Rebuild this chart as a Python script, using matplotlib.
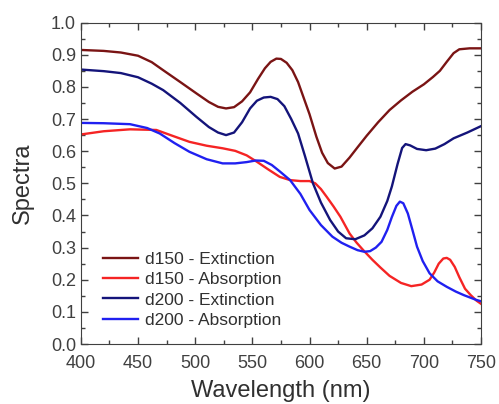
import matplotlib.pyplot as plt
from matplotlib.ticker import MultipleLocator

plt.rcParams['font.family'] = ['Liberation Sans', 'DejaVu Sans']

#------------------------------------------------------------------------------
# Data
ext150_x = [400, 420, 435, 450, 462, 472, 487, 501, 512, 520, 527, 534, 541, 548, 555,
            561, 566, 571, 575, 580, 585, 590, 595, 600, 606, 611, 616, 622, 628, 635,
            642, 650, 660, 670, 680, 690, 700, 708, 714, 720, 726, 731, 740, 750]
ext150_y = [0.915, 0.912, 0.907, 0.897, 0.877, 0.852, 0.815, 0.78, 0.753, 0.738, 0.733,
            0.737, 0.755, 0.783, 0.825, 0.858, 0.878, 0.888, 0.887, 0.875, 0.852, 0.815,
            0.765, 0.715, 0.645, 0.595, 0.563, 0.546, 0.552, 0.58, 0.612, 0.648, 0.69,
            0.728, 0.758, 0.785, 0.808, 0.831, 0.85, 0.878, 0.905, 0.917, 0.92, 0.92]

abs150_x = [400, 420, 443, 466, 480, 495, 510, 524, 535, 545, 554, 564, 574, 583, 592,
            600, 605, 610, 615, 621, 627, 635, 641, 647, 655, 662, 670, 680, 689, 698,
            705, 709, 713, 717, 720, 723, 727, 731, 736, 741, 746, 750]
abs150_y = [0.652, 0.662, 0.668, 0.666, 0.648, 0.629, 0.617, 0.609, 0.601, 0.587, 0.567,
            0.543, 0.52, 0.51, 0.507, 0.507, 0.5, 0.482, 0.458, 0.428, 0.396, 0.344,
            0.316, 0.292, 0.262, 0.238, 0.212, 0.19, 0.18, 0.185, 0.2, 0.222, 0.25,
            0.266, 0.268, 0.262, 0.24, 0.208, 0.172, 0.152, 0.135, 0.125]

ext200_x = [400, 420, 435, 450, 462, 472, 487, 501, 512, 520, 527, 534, 541, 548, 554,
            560, 566, 572, 578, 584, 590, 596, 603, 610, 618, 625, 632, 640, 648, 655,
            662, 668, 672, 677, 681, 684, 688, 694, 702, 710, 718, 726, 738, 750]
ext200_y = [0.854, 0.849, 0.843, 0.83, 0.81, 0.79, 0.75, 0.707, 0.675, 0.658, 0.65, 0.658,
            0.69, 0.733, 0.757, 0.767, 0.769, 0.762, 0.74, 0.70, 0.655, 0.585, 0.50,
            0.44, 0.386, 0.35, 0.329, 0.326, 0.338, 0.36, 0.396, 0.445, 0.49, 0.56,
            0.61, 0.622, 0.618, 0.607, 0.603, 0.608, 0.622, 0.64, 0.658, 0.678]

abs200_x = [400, 420, 443, 458, 469, 482, 495, 510, 524, 535, 545, 553, 560, 567, 574,
            583, 592, 600, 610, 620, 628, 635, 642, 648, 653, 658, 663, 668, 672, 676,
            679, 682, 686, 690, 694, 699, 705, 712, 720, 728, 735, 746, 750]
abs200_y = [0.688, 0.687, 0.684, 0.672, 0.655, 0.625, 0.598, 0.575, 0.562, 0.562, 0.566,
            0.571, 0.57, 0.557, 0.537, 0.51, 0.467, 0.417, 0.37, 0.334, 0.315, 0.303,
            0.292, 0.287, 0.289, 0.3, 0.318, 0.355, 0.395, 0.43, 0.443, 0.438, 0.406,
            0.355, 0.303, 0.258, 0.22, 0.195, 0.178, 0.163, 0.152, 0.137, 0.133]

labels = ['d150 - Extinction', 'd150 - Absorption', 'd200 - Extinction', 'd200 - Absorption']
colors = ['#7a1414', '#f52424', '#14147a', '#2020f0']

#------------------------------------------------------------------------------
# Plot
fig = plt.figure(figsize=(4.99, 4.04), dpi=100)
ax = fig.add_axes([0.162, 0.1485, 0.802, 0.7955])

series = [(ext150_x, ext150_y), (abs150_x, abs150_y), (ext200_x, ext200_y), (abs200_x, abs200_y)]
for (xs, ys), lab, col in zip(series, labels, colors):
    ax.plot(xs, ys, color=col, lw=1.7, label=lab, solid_joinstyle='round')

ax.set_xlim(400, 750)
ax.set_ylim(0, 1.0)
ax.xaxis.set_major_locator(MultipleLocator(50))
ax.xaxis.set_minor_locator(MultipleLocator(25))
ax.yaxis.set_major_locator(MultipleLocator(0.1))
ax.yaxis.set_minor_locator(MultipleLocator(0.05))
ax.tick_params(which='both', direction='in', top=True, right=True, colors='#404040',
               labelcolor='#404040', labelsize=13, width=1)
ax.tick_params(which='major', length=5)
ax.tick_params(which='minor', length=3)
ax.tick_params(axis='x', which='major', pad=8)
for sp in ax.spines.values():
    sp.set_color('#404040')

ax.set_xlabel('Wavelength (nm)', fontsize=17, color='#303030', labelpad=6)
ax.set_ylabel('Spectra', fontsize=17, color='#303030', labelpad=12)

ax.legend(loc='lower left', bbox_to_anchor=(0.055, 0.05), frameon=False, fontsize=12.5,
          handlelength=2.0, handletextpad=0.4, labelspacing=0.3, borderpad=0,
          borderaxespad=0, labelcolor='#303030')

plt.savefig('out.png', dpi=100)
